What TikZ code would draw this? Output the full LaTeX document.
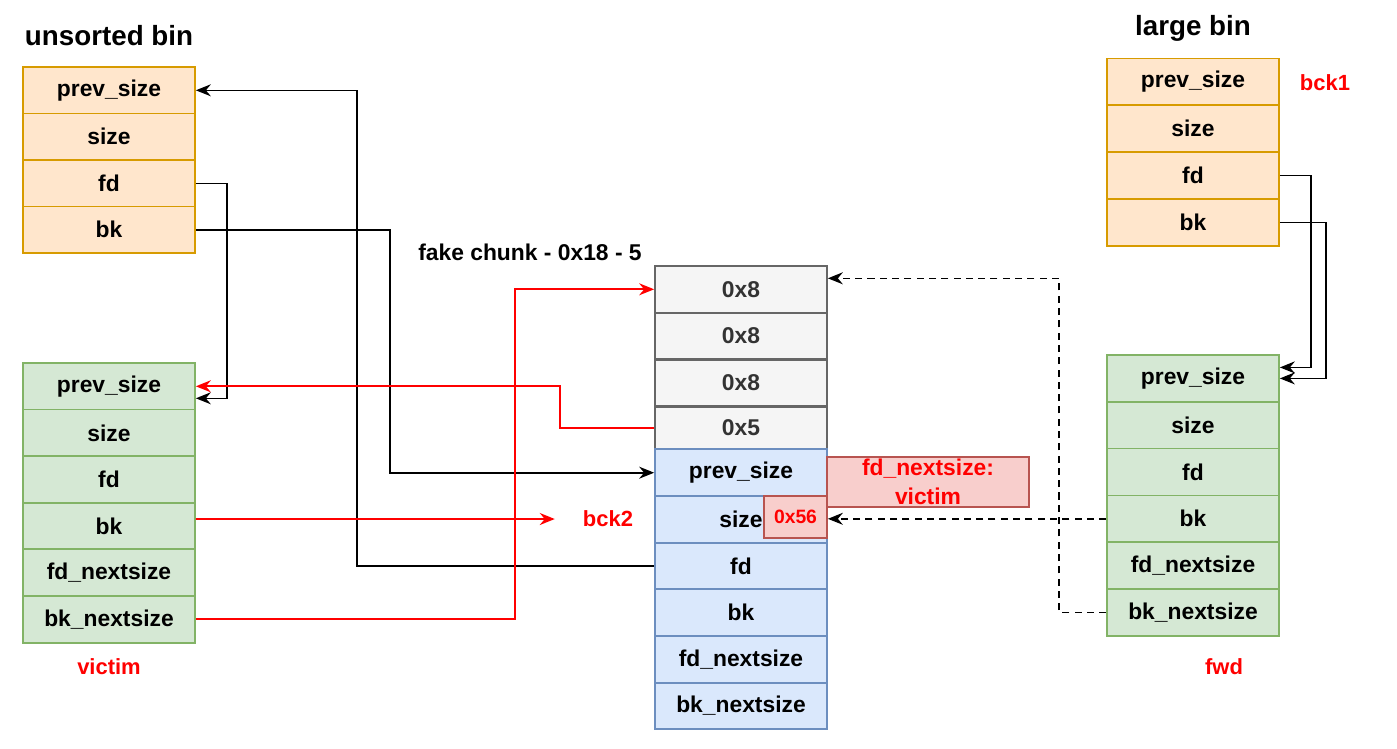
\documentclass[tikz,border=0pt]{standalone}
\usepackage{fontspec}
\setmainfont{Liberation Sans}
\usepackage{tikz}
\usetikzlibrary{arrows.meta}
\definecolor{oFill}{HTML}{FFE6CC}
\definecolor{oLine}{HTML}{D79B00}
\definecolor{gFill}{HTML}{D5E8D4}
\definecolor{gLine}{HTML}{82B366}
\definecolor{eFill}{HTML}{F5F5F5}
\definecolor{eLine}{HTML}{666666}
\definecolor{bFill}{HTML}{DAE8FC}
\definecolor{bLine}{HTML}{6C8EBF}
\definecolor{rFill}{HTML}{F8CECC}
\definecolor{rLine}{HTML}{B85450}
\definecolor{eRed}{HTML}{FF0000}
\tikzset{cell/.style={draw, line width=1pt, inner sep=0pt,
  minimum width=3.44cm, minimum height=0.934cm,
  font=\fontsize{13}{15}\selectfont\bfseries}}
\tikzset{oc/.style={cell, fill=oFill, draw=oLine, minimum height=0.93cm}}
\tikzset{gc/.style={cell, fill=gFill, draw=gLine}}
\tikzset{ec/.style={cell, fill=eFill, draw=eLine, text=black!80}}
\tikzset{bc/.style={cell, fill=bFill, draw=bLine}}
\tikzset{ttl/.style={font=\fontsize{15.8}{18}\selectfont\bfseries}}
\tikzset{lbl/.style={text=eRed, font=\fontsize{12.5}{15}\selectfont\bfseries}}
\tikzset{k/.style={draw, line width=0.9pt, black,
  -{Stealth[length=0.3cm, width=0.24cm, inset=0.1cm]}}}
\tikzset{r/.style={draw, line width=1pt, eRed,
  -{Stealth[length=0.3cm, width=0.24cm, inset=0.1cm]}}}
\tikzset{kd/.style={k, dashed, dash pattern=on 4pt off 3pt}}

\begin{document}
\begin{tikzpicture}[x=0.02cm, y=-0.02cm]
  \useasboundingbox (0,0) rectangle (1397,748);
  %% unsorted bin
  \node (ust) at (109,36) [ttl] {unsorted bin};
  \node (us0) at (109,90.3) [oc] {prev\_size};
  \node (us1) at (109,136.8) [oc] {size};
  \node (us2) at (109,183.3) [oc] {fd};
  \node (us3) at (109,229.8) [oc] {bk};
  %% victim
  \node (vi0) at (109,386.3) [gc] {prev\_size};
  \node (vi1) at (109,432.9) [gc] {size};
  \node (vi2) at (109,479.5) [gc] {fd};
  \node (vi3) at (109,526.1) [gc] {bk};
  \node (vi4) at (109,572.7) [gc] {fd\_nextsize};
  \node (vi5) at (109,619.3) [gc] {bk\_nextsize};
  \node (vic) at (109,667) [lbl] {victim};
  %% fake chunk
  \node (fkt) at (530,252) [font=\fontsize{13}{15}\selectfont\bfseries] {fake chunk - 0x18 - 5};
  \node (fk0) at (741,289.3) [ec] {0x8};
  \node (fk1) at (741,336) [ec] {0x8};
  \node (fk2) at (741,383) [ec] {0x8};
  \node (fk3) at (741,428) [ec, minimum height=0.852cm] {0x5};
  \node (fc0) at (741,472.7) [bc] {prev\_size};
  \node (fc1) at (741,519.3) [bc] {size};
  \node (fc2) at (741,566) [bc] {fd};
  \node (fc3) at (741,612.7) [bc] {bk};
  \node (fc4) at (741,659.4) [bc] {fd\_nextsize};
  \node (fc5) at (741,706) [bc] {bk\_nextsize};
  \node (sz) at (795.5,517) [draw=rLine, fill=rFill, line width=1pt, text=eRed,
    minimum width=1.26cm, minimum height=0.84cm, inner sep=0pt,
    font=\fontsize{11}{13}\selectfont\bfseries] {0x56};
  \node (fdn) at (928,482) [draw=rLine, fill=rFill, line width=1pt, text=eRed,
    minimum width=4.04cm, minimum height=1cm, inner sep=0pt, align=center,
    font=\fontsize{13}{16.4}\selectfont\bfseries] {fd\_nextsize:\\victim};
  \node (bck2) at (608,519) [lbl] {bck2};
  %% large bin
  \node (lbt) at (1193,28) [ttl] {large bin};
  \node (lb0) at (1193,82) [oc, minimum height=0.938cm] {prev\_size};
  \node (lb1) at (1193,128.8) [oc, minimum height=0.938cm] {size};
  \node (lb2) at (1193,175.7) [oc, minimum height=0.938cm] {fd};
  \node (lb3) at (1193,222.6) [oc, minimum height=0.938cm] {bk};
  \node (bck1) at (1325,83) [lbl] {bck1};
  %% fwd
  \node (fw0) at (1193,378.4) [gc, minimum height=0.936cm] {prev\_size};
  \node (fw1) at (1193,425.2) [gc, minimum height=0.936cm] {size};
  \node (fw2) at (1193,472) [gc, minimum height=0.936cm] {fd};
  \node (fw3) at (1193,518.8) [gc, minimum height=0.936cm] {bk};
  \node (fw4) at (1193,565.6) [gc, minimum height=0.936cm] {fd\_nextsize};
  \node (fw5) at (1193,612.4) [gc, minimum height=0.936cm] {bk\_nextsize};
  \node (fwd) at (1224,667) [lbl] {fwd};
  %%
  \draw [k] (us2.east) -- ++(31,0) |- ([yshift=-0.24cm]vi0.east);
  \draw [k] (us3.east) -- ++(194,0) |- (fc0.west);
  \draw [k] (fc2.west) -- ++(-297,0) |- (us0.east);
  \draw [r] (fk3.west) -- ++(-94,0) |- (vi0.east);
  \draw [r] (vi5.east) -- ++(319,0) |- (fk0.west);
  \draw [r, shorten >=0.44cm] ([yshift=0.14cm]vi3.east) -- (bck2.west);
  %%
  \draw [k] (lb2.east) -- ++(31,0) |- ([yshift=0.22cm]fw0.east);
  \draw [k] (lb3.east) -- ++(46,0) |- (fw0.east);
  \draw [kd] (fw3.west) -- (sz.east |- fw3.west);
  \draw [kd] (fw5.west) -- ++(-47,0) |- ([yshift=0.22cm]fk0.east);
\end{tikzpicture}
\end{document}
